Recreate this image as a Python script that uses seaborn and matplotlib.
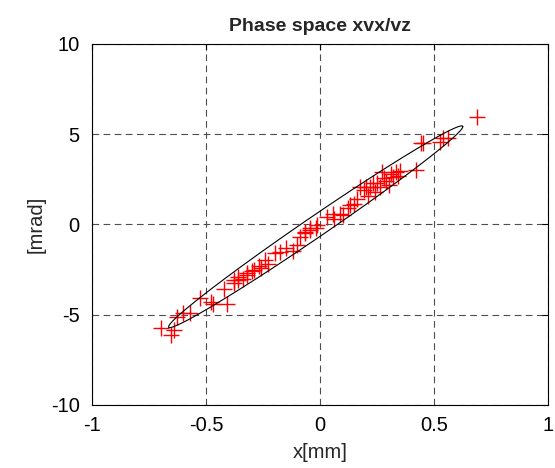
import numpy as np
import pandas as pd
import matplotlib
matplotlib.use("Agg")
import matplotlib.pyplot as plt
import seaborn as sns

# particle coordinates
x_mm = [-0.70, -0.656, -0.643, -0.626, -0.60, -0.57, -0.525, -0.48, -0.47, -0.41,
        -0.38, -0.36, -0.34, -0.32, -0.38, -0.36, -0.32, -0.29, -0.26, -0.23,
        -0.20, -0.175, -0.12, -0.10, -0.088, -0.066, -0.044, -0.02, -0.066, -0.044,
        -0.013, 0.03, 0.057, 0.088, 0.13, 0.15, 0.175, 0.20, 0.23, 0.19,
        0.22, 0.25, 0.28, 0.31, 0.34, 0.42, 0.45, 0.44, 0.525, 0.54,
        0.56, 0.687, 0.27, 0.29, 0.32, 0.33, 0.24, 0.26, 0.12, 0.16,
        0.10, 0.06, -0.15, -0.24, -0.30, -0.42, 0.30, 0.21, 0.35, -0.27]
y_mrad = [-5.76, -6.15, -5.87, -5.15, -4.93, -4.93, -4.10, -4.30, -4.40, -4.40,
          -3.27, -3.10, -3.00, -2.80, -3.10, -2.90, -2.70, -2.50, -2.40, -2.20,
          -1.60, -1.55, -1.45, -1.15, -0.72, -0.50, -0.33, -0.20, -0.44, -0.22,
          -0.05, 0.40, 0.60, 0.60, 1.05, 1.15, 2.05, 2.05, 2.27, 1.90,
          2.05, 2.27, 2.55, 2.80, 2.70, 3.00, 4.50, 4.50, 4.55, 4.80,
          4.80, 5.93, 2.90, 2.40, 2.60, 2.90, 1.80, 2.10, 0.90, 1.40,
          0.50, 0.30, -1.30, -2.00, -2.60, -3.60, 2.20, 1.60, 2.95, -2.30]

# emittance ellipse parameters (centre, half-size in x, slope, half-width in x')
ell_x0, ell_y0 = -0.02, -0.13
ell_a = 0.645
ell_k = 8.6
ell_w = 0.7

t = np.linspace(0, 2 * np.pi, 200)
ellipse = pd.DataFrame({
    "x": ell_x0 + ell_a * np.cos(t),
    "y": ell_y0 + ell_k * ell_a * np.cos(t) + ell_w * np.sin(t),
})
pts = pd.DataFrame({"x": x_mm, "y": y_mrad})

sns.set_style("white")
plt.rcParams["font.family"] = ["Liberation Sans", "DejaVu Sans"]
plt.rcParams["axes.unicode_minus"] = False

fig = plt.figure(figsize=(5.55, 4.68), dpi=100)
ax = fig.add_axes([0.166, 0.135, 0.822, 0.771])

sns.scatterplot(data=pts, x="x", y="y", marker="+", s=120, color="red",
                linewidth=1.0, ax=ax, zorder=3)
sns.lineplot(data=ellipse, x="x", y="y", sort=False, estimator=None,
             color="black", linewidth=0.8, ax=ax, zorder=4)

ax.set_xlim(-1, 1)
ax.set_ylim(-10, 10)
ax.set_xticks([-1, -0.5, 0, 0.5, 1])
ax.set_xticklabels(["-1", "-0.5", "0", "0.5", "1"])
ax.set_yticks([-10, -5, 0, 5, 10])
ax.set_yticklabels(["-10", "-5", "0", "5", "10"])
ax.grid(True, color="0.3", linestyle=(0, (6, 4)), linewidth=0.8)
ax.tick_params(direction="in", length=4, labelsize=14.5, top=True, right=True,
               colors="black", width=0.8)
ax.tick_params(axis="x", pad=8)
ax.tick_params(axis="y", pad=9)
for sp in ax.spines.values():
    sp.set_color("black")
    sp.set_linewidth(0.8)

ax.set_xlabel("x[mm]", fontsize=14.5, labelpad=6)
ax.set_ylabel("[mrad]", fontsize=14.5, labelpad=4)
ax.set_title("Phase space xvx/vz", fontsize=14, fontweight="bold", pad=9)

fig.savefig("out.png", dpi=100)
